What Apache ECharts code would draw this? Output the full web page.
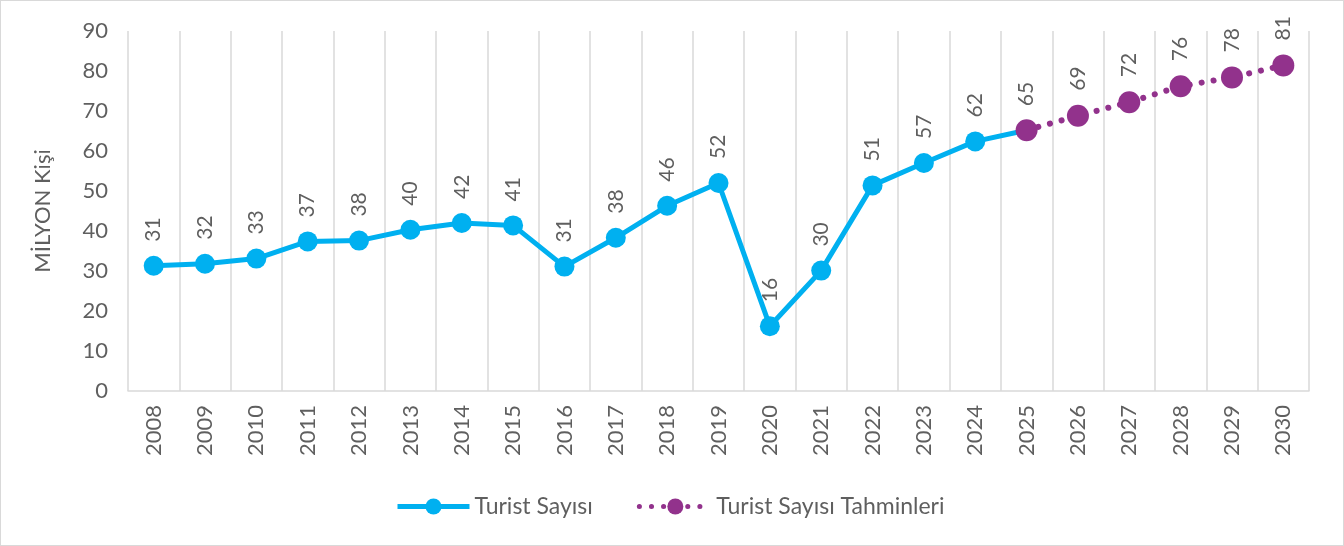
<!DOCTYPE html>
<html>
<head>
<meta charset="utf-8">
<script src="https://cdn.jsdelivr.net/npm/echarts@6/dist/echarts.min.js"></script>
<style>
  html, body { margin: 0; padding: 0; background: #fff; }
  #chart { width: 1344px; height: 546px; box-sizing: border-box; border: 1px solid #d9d9d9; }
</style>
</head>
<body>
<div id="chart"></div>
<script>
// yıllar
const years = ["2008","2009","2010","2011","2012","2013","2014","2015","2016","2017","2018",
  "2019","2020","2021","2022","2023","2024","2025","2026","2027","2028","2029","2030"];
// gerçekleşen turist sayısı (milyon)
const actual = [31.3, 31.8, 33.1, 37.4, 37.6, 40.3, 42.0, 41.4, 31.1, 38.3, 46.3,
  52.0, 16.2, 30.1, 51.4, 57.0, 62.4, 65.2, null, null, null, null, null];
// tahminler
const forecast = [null, null, null, null, null, null, null, null, null, null, null,
  null, null, null, null, null, null, 65.2, 68.8, 72.2, 76.2, 78.4, 81.4];
const yTicks = { min: 0, max: 90, interval: 10 };

const textColor = "#5f5f5f";
const fontFam = "Lato, 'Open Sans', sans-serif";
const blue = "#00B0F0";
const purple = "#92328C";

const chart = echarts.init(document.getElementById("chart"));
const labelCfg = {
  show: true,
  position: "top",
  rotate: 90,
  align: "left",
  verticalAlign: "middle",
  distance: 14,
  color: textColor,
  fontSize: 21,
  fontFamily: fontFam,
  formatter: p => Math.round(p.value)
};

chart.setOption({
  animation: false,
  grid: { left: 127, right: 34, top: 30, bottom: 154 },
  legend: {
    bottom: 22,
    left: 389,
    itemWidth: 72,
    itemHeight: 20,
    itemGap: 44,
    textStyle: { color: textColor, fontSize: 23, fontFamily: fontFam },
    data: [
      { name: "Turist Sayısı", lineStyle: { width: 5 } },
      { name: "Turist Sayısı Tahminleri", lineStyle: { width: 5 } }
    ]
  },
  xAxis: {
    type: "category",
    data: years,
    boundaryGap: true,
    axisLine: { lineStyle: { color: "#d9d9d9", width: 1.5 } },
    axisTick: { show: false },
    splitLine: { show: true, lineStyle: { color: "#d9d9d9", width: 1.5 } },
    axisLabel: { rotate: 90, color: textColor, fontSize: 22, fontFamily: fontFam, margin: 14 }
  },
  yAxis: {
    type: "value",
    min: yTicks.min,
    max: yTicks.max,
    interval: yTicks.interval,
    name: "MİLYON Kişi",
    nameLocation: "middle",
    nameGap: 74,
    nameTextStyle: { color: textColor, fontSize: 22, fontFamily: fontFam },
    axisLine: { show: false },
    axisTick: { show: false },
    splitLine: { show: false },
    axisLabel: { color: textColor, fontSize: 22, fontFamily: fontFam, margin: 20 }
  },
  series: [
    {
      name: "Turist Sayısı",
      type: "line",
      data: actual,
      symbol: "circle",
      symbolSize: 20,
      itemStyle: { color: blue },
      lineStyle: { color: blue, width: 5 },
      label: labelCfg
    },
    {
      name: "Turist Sayısı Tahminleri",
      type: "line",
      data: forecast,
      symbol: "circle",
      symbolSize: 22,
      itemStyle: { color: purple },
      lineStyle: { color: purple, width: 6, type: [0.1, 12], cap: "round" },
      label: Object.assign({}, labelCfg, {
        formatter: p => p.dataIndex === 17 ? "" : Math.round(p.value)
      })
    }
  ]
});
window.addEventListener("resize", () => chart.resize());
</script>
</body>
</html>
